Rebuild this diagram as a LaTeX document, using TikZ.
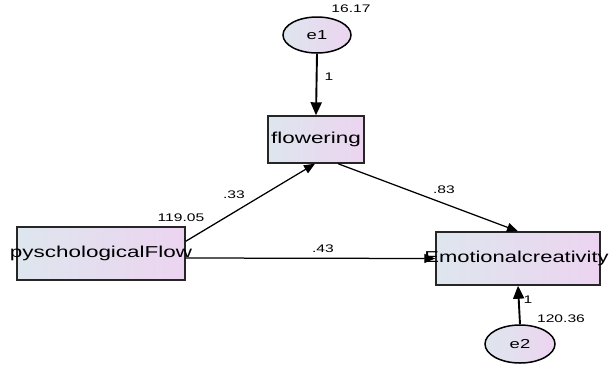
\documentclass[tikz,border=0pt]{standalone}
\usepackage{fontspec}
\setmainfont{Liberation Sans}
\usepackage{graphicx}
\usetikzlibrary{shapes.geometric,arrows.meta,calc}
\definecolor{gl}{RGB}{222,230,238}
\definecolor{gr}{RGB}{236,212,240}
\newcommand\hs[1]{\scalebox{1.42}[1]{#1}}
\begin{document}
\begin{tikzpicture}[x=1pt,y=-1pt,
  box/.style={draw=black!85, line width=1.4pt, left color=gl, right color=gr, rectangle, inner sep=0pt},
  err/.style={draw=black, line width=1.5pt, ellipse, left color=gl, right color=gr, inner sep=0pt},
  arr/.style={-{Triangle[length=11pt,width=9pt]}, line width=1.25pt},
  arrb/.style={-{Triangle[length=13pt,width=11pt]}, line width=1.9pt},
  lbl/.style={font=\fontsize{15.8}{18}\selectfont, inner sep=0pt},
  elbl/.style={font=\fontsize{13}{15}\selectfont, inner sep=0pt},
  num/.style={font=\fontsize{11}{13}\selectfont, inner sep=0pt}]
\useasboundingbox (0,0) rectangle (610,365);
\node[err, minimum width=68pt, minimum height=36pt] (e1) at (317,35) {};
\node[box, minimum width=96pt, minimum height=47pt] (fl) at (316,139.5) {};
\node[box, minimum width=168pt, minimum height=53pt] (pf) at (101,253.5) {};
\node[box, minimum width=164pt, minimum height=53pt] (ec) at (518,258.5) {};
\node[err, minimum width=70pt, minimum height=38pt] (e2) at (520,344) {};
\draw[arrb] (e1.south) -- (fl.north);
\draw[arr] ($(pf.north east)+(0,15)$) -- ($(fl.south)+(-1,0)$);
\draw[arr] ($(fl.south)+(22,0)$) -- (ec.north);
\draw[arr] ($(pf.east)+(0,4.5)$) -- (ec.west);
\draw[arrb] (e2.north) -- (ec.south);
\node[lbl] (tfl) at (fl) {\hs{flowering}};
\node[lbl] (tpf) at (pf) {\hs{pyschologicalFlow}};
\node[lbl] (tec) at ($(ec)+(-1.5,0)$) {\scalebox{1.39}[1]{Emotionalcreativity}};
\node[elbl] (te1) at (e1) {\hs{e1}};
\node[elbl] (te2) at (e2) {\hs{e2}};
\node[num] (n1) at (351,9) {\hs{16.17}};
\node[num] (n2) at (329,77) {\hs{1}};
\node[num] (n3) at (234,195) {\hs{.33}};
\node[num] (n4) at (181,218) {\hs{119.05}};
\node[num] (n5) at (444,190) {\hs{.83}};
\node[num] (n6) at (323,249) {\hs{.43}};
\node[num] (n7) at (528,300) {\hs{1}};
\node[num] (n8) at (561,319) {\hs{120.36}};
\end{tikzpicture}
\end{document}
